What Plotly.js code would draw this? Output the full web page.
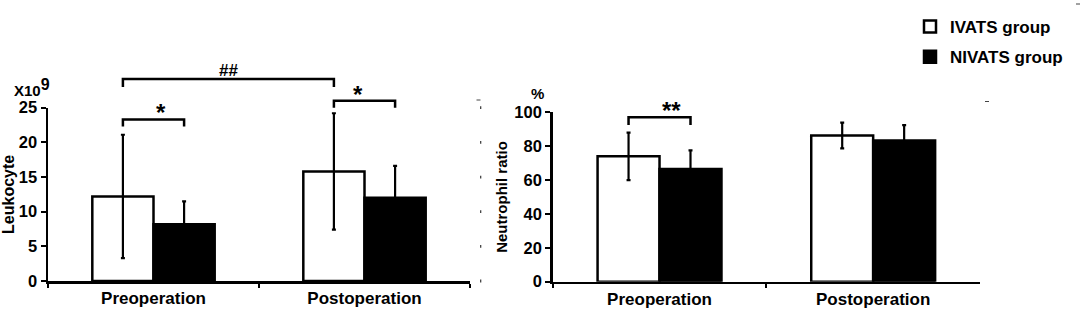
<!DOCTYPE html>
<html><head><meta charset="utf-8">
<script src="https://cdn.plot.ly/plotly-3.0.1.min.js"></script>
<style>html,body{margin:0;padding:0;background:#fff}</style>
</head><body><div id="chart" style="width:1084px;height:314px"></div>
<script>
// ---------- data ----------
const categories = ["Preoperation", "Postoperation"];
const groupNames = ["IVATS group", "NIVATS group"];

const leukocyteIVATS = [12.2, 15.8];
const leukocyteIVATSsd = [8.9, 8.4];
const leukocyteNIVATS = [8.2, 12.0];
const leukocyteNIVATSsd = [3.3, 4.6];

const neutrophilIVATS = [74.0, 86.3];
const neutrophilIVATSsd = [14.0, 7.6];
const neutrophilNIVATS = [66.5, 83.3];
const neutrophilNIVATSsd = [11.0, 9.1];

const leukTicks = [0, 5, 10, 15, 20, 25];
const neutTicks = [0, 20, 40, 60, 80, 100];

// significance brackets: [panel, from(cat,group), to(cat,group), top level, drop level, label]
const sigPanel = ["left", "left", "left", "right"];
const sigFrom = [[0, 0], [1, 0], [0, 0], [0, 0]];
const sigTo = [[0, 1], [1, 1], [1, 0], [0, 1]];
const sigTop = [23.3, 26.0, 29.15, 97.1];
const sigDrop = [22.3, 25.0, 28.0, 92.5];
const sigLabel = ["*", "*", "##", "**"];

// ---------- layout helpers ----------
const W = 1084, H = 314;
const FONT = "Arial, 'Liberation Sans', sans-serif";
const BARGAP = 0.42;
const XR = [-0.5, 1.5];
const panels = {
  left:  {xref: "x domain", yref: "y domain", yr: [0, 25]},
  right: {xref: "x2 domain", yref: "y2 domain", yr: [0, 100]}
};
const off = (1 - BARGAP) / 4;
function dx(cat, grp) { const v = cat + (grp === 0 ? -off : off); return (v - XR[0]) / (XR[1] - XR[0]); }
function dy(panel, v) { const r = panels[panel].yr; return (v - r[0]) / (r[1] - r[0]); }

function bar(y, sd, i, xa, ya, show) {
  return {
    type: "bar", x: categories, y: y, name: groupNames[i],
    xaxis: xa, yaxis: ya, showlegend: show, legendgroup: "g" + i,
    marker: {color: i === 0 ? "#ffffff" : "#000000", line: {color: "#000", width: 2.5}},
    error_y: {type: "data", array: sd, visible: true, color: "#000", thickness: 2.2, width: 2},
    hoverinfo: "none"
  };
}
const data = [
  bar(leukocyteIVATS, leukocyteIVATSsd, 0, "x", "y", true),
  bar(leukocyteNIVATS, leukocyteNIVATSsd, 1, "x", "y", true),
  bar(neutrophilIVATS, neutrophilIVATSsd, 0, "x2", "y2", false),
  bar(neutrophilNIVATS, neutrophilNIVATSsd, 1, "x2", "y2", false)
];

const shapes = [], annotations = [];
for (let k = 0; k < sigLabel.length; k++) {
  const p = panels[sigPanel[k]];
  const x0 = dx(sigFrom[k][0], sigFrom[k][1]), x1 = dx(sigTo[k][0], sigTo[k][1]);
  const yt = dy(sigPanel[k], sigTop[k]), yd = dy(sigPanel[k], sigDrop[k]);
  shapes.push({type: "path", xref: p.xref, yref: p.yref,
    path: `M${x0},${yd} L${x0},${yt} L${x1},${yt} L${x1},${yd}`,
    line: {color: "#000", width: 2.5}});
  const isStar = sigLabel[k].indexOf("*") >= 0;
  annotations.push({xref: p.xref, yref: p.yref, x: (x0 + x1) / 2, y: yt,
    text: sigLabel[k], showarrow: false, yanchor: "bottom", yshift: isStar ? -9 : -3,
    font: {family: FONT, size: isStar ? 24 : 17, color: "#000", weight: "bold"}});
}
// faint tick remnants on the right of the left panel
leukTicks.forEach(v => {
  shapes.push({type: "line", xref: "paper", yref: "y domain",
    x0: 480.7 / W, x1: 480.7 / W, y0: dy("left", v) - 0.008, y1: dy("left", v) + 0.008,
    line: {color: "#333", width: 1.2}});
});
[[476.5, 480.5, 100], [985, 989, 101.5], [1076, 1080, 4]].forEach(d => {
  shapes.push({type: "line", xref: "paper", yref: "paper",
    x0: d[0] / W, x1: d[1] / W, y0: 1 - d[2] / H, y1: 1 - d[2] / H,
    line: {color: "#444", width: 1}});
});

annotations.push({xref: "paper", yref: "paper", x: 12 / W, y: 1 - 88 / H, xanchor: "left", yanchor: "middle",
  text: "X10<sup><span style='font-size:16px'>9</span></sup>", showarrow: false,
  font: {family: FONT, size: 15, color: "#000", weight: "bold"}});
annotations.push({xref: "paper", yref: "paper", x: 537 / W, y: 1 - 93 / H, xanchor: "center", yanchor: "middle",
  text: "%", showarrow: false, font: {family: FONT, size: 15, color: "#000", weight: "bold"}});

const tickFont = {family: FONT, size: 16.5, color: "#000", weight: "bold"};
const xTickFont = {family: FONT, size: 17, color: "#000", weight: "bold"};
function xAxis(dom, anchor) {
  return {domain: dom, range: XR, type: "category", anchor: anchor,
    showline: true, linecolor: "#000", linewidth: 2.5, ticks: "outside", tickson: "boundaries",
    ticklen: 4, tickwidth: 2, tickcolor: "#000", tickfont: xTickFont,
    showgrid: false, zeroline: false, fixedrange: true};
}
function yAxis(dom, anchor, range, ticks, title, tsize) {
  return {domain: dom, range: range, anchor: anchor, tickmode: "array", tickvals: ticks,
    showline: true, linecolor: "#000", linewidth: 2.5, ticks: "outside",
    ticklen: 5, tickwidth: 2, tickcolor: "#000", tickfont: tickFont,
    title: {text: title, font: {family: FONT, size: tsize, color: "#000", weight: "bold"}, standoff: 3},
    showgrid: false, zeroline: false, fixedrange: true};
}

const layout = {
  width: W, height: H, margin: {l: 0, r: 0, t: 0, b: 0},
  paper_bgcolor: "#fff", plot_bgcolor: "rgba(0,0,0,0)",
  barmode: "group", bargap: BARGAP, bargroupgap: 0,
  font: {family: FONT, color: "#000"},
  xaxis: xAxis([48 / W, 470 / W], "y"),
  yaxis: yAxis([1 - 281 / H, 1 - 107.7 / H], "x", [0, 25], leukTicks, "Leukocyte", 16),
  xaxis2: xAxis([552.7 / W, 980 / W], "y2"),
  yaxis2: yAxis([1 - 281.7 / H, 1 - 112.3 / H], "x2", [0, 100], neutTicks, "Neutrophil ratio", 15),
  showlegend: true,
  legend: {x: 910 / W, y: 1 - 9 / H, xanchor: "left", yanchor: "top", bgcolor: "rgba(0,0,0,0)",
    font: {family: FONT, size: 17, color: "#000", weight: "bold"}, tracegroupgap: 5, traceorder: "grouped"},
  shapes: shapes, annotations: annotations
};
Plotly.newPlot("chart", data, layout, {staticPlot: true, displayModeBar: false});
</script></body></html>
